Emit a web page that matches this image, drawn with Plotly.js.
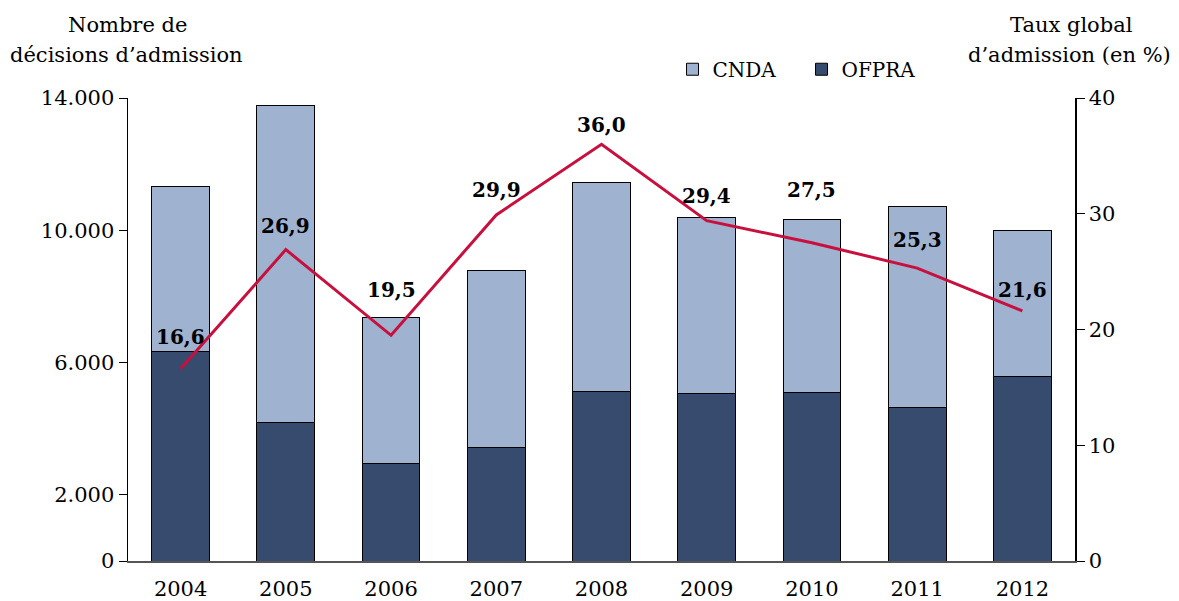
<!DOCTYPE html>
<html><head><meta charset="utf-8">
<script src="https://cdn.plot.ly/plotly-3.0.1.min.js"></script>
<style>body{margin:0;background:#fff}#c{width:1179px;height:601px}</style>
</head><body><div id="c"></div>
<script>
const years = ['2004','2005','2006','2007','2008','2009','2010','2011','2012'];
const ofpra = [6350, 4200, 2960, 3420, 5140, 5080, 5110, 4630, 5590];
const cnda = [4960, 9560, 4390, 5350, 6290, 5320, 5230, 6080, 4390];
const taux = [16.6, 26.9, 19.5, 29.9, 36.0, 29.4, 27.5, 25.3, 21.6];
const leftTicks = [0, 2000, 6000, 10000, 14000];
const leftTickText = ['0', '2.000', '6.000', '10.000', '14.000'];
const rightTicks = [0, 10, 20, 30, 40];
const labelShift = [32, 24, 45, 25, 19, 25, 53, 28, 21];

const F = 'DejaVu Serif, Liberation Serif, serif';
const traces = [
  {type:'bar', name:'OFPRA', x:years, y:ofpra, marker:{color:'#364B6D', line:{color:'#000', width:1}}, width:0.55},
  {type:'bar', name:'CNDA', x:years, y:cnda, marker:{color:'#9FB2CF', line:{color:'#000', width:1}}, width:0.55},
  {type:'scatter', mode:'lines', x:years, y:taux, yaxis:'y2', line:{color:'#C8103E', width:3}, showlegend:false}
];
const annotations = taux.map((v,i)=>({
  x: i, y: v, yref:'y2', xref:'x', text: '<b>' + v.toFixed(1).replace('.', ',') + '</b>',
  showarrow:false, yshift: labelShift[i], font:{family:F, size:20, color:'#000'}
}));
function t(text, px, xs, ys){
  return {xref:'paper', yref:'paper', x:px, y:1, xshift:xs, yshift:ys, xanchor:'center', yanchor:'middle',
    text:text, showarrow:false, font:{family:F, size:21, color:'#000'}};
}
annotations.push(t('Nombre de', 0, -1, 73));
annotations.push(t('décisions d’admission', 0, -2, 43));
annotations.push(t('Taux global', 1, -4, 73));
annotations.push(t('d’admission (en %)', 1, -6, 43));
const layout = {
  width:1179, height:601,
  margin:{l:128, r:104, t:98, b:40},
  barmode:'stack',
  paper_bgcolor:'#fff', plot_bgcolor:'#fff',
  font:{family:F, size:21, color:'#000'},
  xaxis:{type:'category', range:[-0.5, 8.5], showline:true, linecolor:'#555', linewidth:1.5, ticks:'', ticklabelstandoff:8, tickfont:{size:21}, showgrid:false, zeroline:false},
  yaxis:{range:[0,14000], tickvals:leftTicks, ticktext:leftTickText, showline:true, linecolor:'#000', linewidth:1.5,
    ticks:'outside', ticklen:8, tickcolor:'#000', showgrid:false, zeroline:false, tickfont:{size:21}},
  yaxis2:{range:[0,40], overlaying:'y', side:'right', tickvals:rightTicks, showline:true, linecolor:'#000', linewidth:1.5,
    ticks:'outside', ticklen:8, tickcolor:'#000', showgrid:false, zeroline:false, tickfont:{size:21}},
  legend:{orientation:'h', x:0.575, y:1.02, xanchor:'left', yanchor:'bottom', traceorder:'reversed', font:{size:20},
    entrywidth:84, entrywidthmode:'pixels'},
  annotations: annotations,
  showlegend:true
};
Plotly.newPlot('c', traces, layout, {displayModeBar:false, staticPlot:true});
</script></body></html>
